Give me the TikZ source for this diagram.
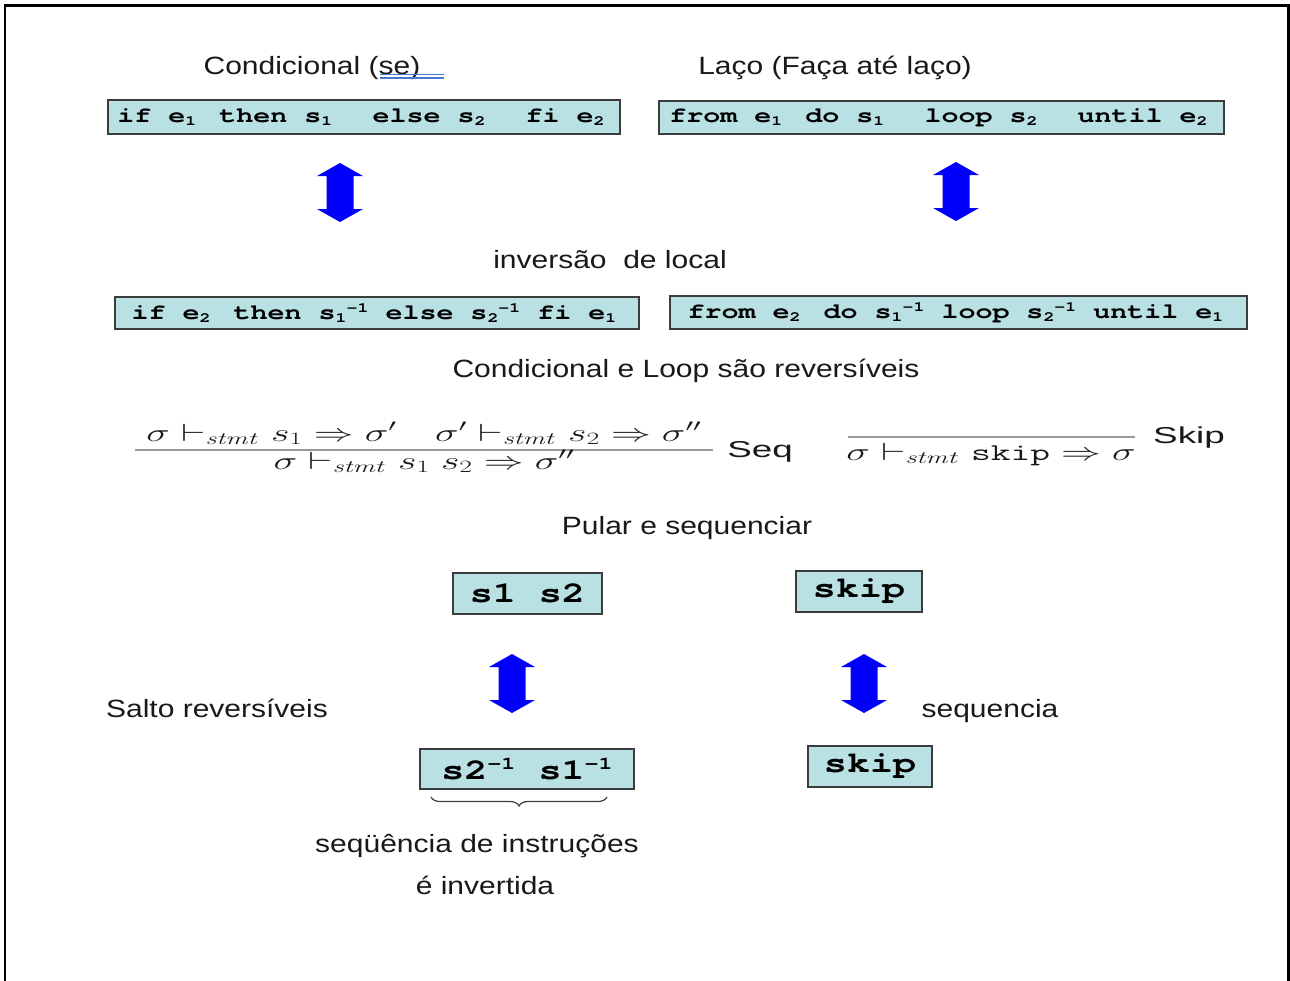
\documentclass[tikz,border=0pt]{standalone}
\usepackage[no-math]{fontspec}
\usepackage{graphicx}
\setmainfont{Liberation Sans}[FakeStretch=1.2]
\newfontfamily\boxfont{TeX Gyre Cursor}[FakeStretch=1.3, Ligatures={NoCommon}]
\newfontfamily\smallboxfont{TeX Gyre Cursor}[FakeStretch=1.3, Ligatures={NoCommon}]
\newfontfamily\rulefont{Liberation Sans}
\usetikzlibrary{decorations.pathreplacing}
\definecolor{boxfill}{RGB}{185,224,227}
\definecolor{boxline}{RGB}{60,60,60}
\definecolor{ulblue}{RGB}{70,120,220}
\definecolor{arrowblue}{RGB}{0,0,250}
\definecolor{textgray}{RGB}{25,25,25}
% subscript taking a full cell, natural subscript, superscript (big boxes)
\newcommand\bs[1]{\makebox[17pt][l]{\raisebox{-3.5pt}{\fontsize{14}{14}\selectfont#1}}}
\newcommand\bsn[1]{\raisebox{-3.5pt}{\fontsize{14}{14}\selectfont#1}}
\newcommand\bsp[1]{\raisebox{7pt}{\fontsize{14}{14}\selectfont#1}}
\newcommand\ssp[1]{\raisebox{10pt}{\fontsize{18}{18}\selectfont#1}}
\newcommand\rulesc[1]{\scalebox{1.6}[1]{#1}}
\begin{document}
\begin{tikzpicture}[x=1pt,y=-1pt,
  codebox/.style={draw=boxline, line width=2pt, fill=boxfill, inner sep=0pt,
    font=\boxfont\bfseries\fontsize{21.8}{21.8}\selectfont},
  smallbox/.style={draw=boxline, line width=2pt, fill=boxfill, inner sep=0pt,
    font=\smallboxfont\bfseries\fontsize{29.5}{29.5}\selectfont},
  lbl/.style={anchor=base, inner sep=0pt, text=textgray, font=\fontsize{25}{25}\selectfont},
  rulelbl/.style={anchor=base, inner sep=0pt, text=textgray, font=\rulefont\fontsize{23}{23}\selectfont},
  mathlbl/.style={anchor=base, inner sep=0pt, text=textgray, font=\fontsize{24}{24}\selectfont},
  ruleline/.style={draw=gray!80, line width=1.5pt},
  pics/updown/.style={code={
    \fill[arrowblue] (0,0) -- (23,13) -- (13.5,13) -- (13.5,46) -- (23,46) -- (0,59)
      -- (-23,46) -- (-13.5,46) -- (-13.5,13) -- (-23,13) -- cycle;}}
]
\useasboundingbox (0,0) rectangle (1290,980);
\fill[white] (0,0) rectangle (1290,980);
\draw[line width=2.5pt] (5,981) -- (5,5.5) -- (1288.5,5.5) -- (1288.5,981);

% titles
\node[lbl] (tcond) at (312,74) {Condicional (se)};
\draw[ulblue, line width=1.3pt] (380,74.5) -- (444,74.5);
\draw[ulblue, line width=1.3pt] (380,78) -- (444,78);
\node[lbl] (tlaco) at (835,74) {Laço (Faça até laço)};

% top boxes
\node[codebox, minimum width=512, minimum height=34] (ifbox) at (364,117)
  {if e\bs{1} then s\bs{1}~~else s\bs{2}~~fi e\bs{2}};
\node[codebox, minimum width=565, minimum height=33] (frombox) at (941.5,117.5)
  {from e\bs{1} do s\bs{1}~~loop s\bs{2}~~until e\bs{2}};

% arrows
\pic at (340,163) {updown};
\pic at (956,162) {updown};

\node[lbl] (tinv) at (610,268) {inversão~~de local};

\node[codebox, minimum width=524, minimum height=32] (ifinv) at (377,313)
  {if e\bs{2} then s\bsn{1}\bsp{-1} else s\bsn{2}\bsp{-1} fi e\bs{1}};
\node[codebox, minimum width=577, minimum height=33] (frominv) at (958.5,312.5)
  {from e\bs{2} do s\bsn{1}\bsp{-1} loop s\bsn{2}\bsp{-1} until e\bs{1}};

\node[lbl] (trev) at (686,377) {Condicional e Loop são reversíveis};

% Seq rule
\coordinate (seqL) at (135,450);
\coordinate (seqR) at (713,450);
\draw[ruleline] (seqL) -- (seqR);
\node[mathlbl] (seqnum) at (424,441)
  {\rulesc{$\sigma \vdash_{\mathit{stmt}} s_1 \Rightarrow \sigma' \quad \sigma' \vdash_{\mathit{stmt}} s_2 \Rightarrow \sigma''$}};
\node[mathlbl] (seqden) at (424,469)
  {\rulesc{$\sigma \vdash_{\mathit{stmt}} s_1\; s_2 \Rightarrow \sigma''$}};
\node[rulelbl] (seqlbl) at (760,457) {\rulesc{Seq}};

% Skip rule
\coordinate (skL) at (848,437);
\coordinate (skR) at (1135,437);
\draw[ruleline] (skL) -- (skR);
\node[mathlbl] (skden) at (991,460)
  {\rulesc{$\sigma \vdash_{\mathit{stmt}} \texttt{skip} \Rightarrow \sigma$}};
\node[rulelbl] (sklbl) at (1189,443) {\rulesc{Skip}};

\node[lbl] (tpular) at (687,534) {Pular e sequenciar};

% bottom boxes
\node[smallbox, minimum width=149, minimum height=41] (s1s2) at (527.5,593.5) {s1 s2};
\node[smallbox, minimum width=126, minimum height=41] (skip1) at (859,591.5) {skip};
\pic at (512,654) {updown};
\pic at (864,654) {updown};
\node[smallbox, minimum width=214, minimum height=40] (inv) at (527,769)
  {s2\ssp{-1} s1\ssp{-1}};
\node[smallbox, minimum width=124, minimum height=41] (skip2) at (870,766.5) {skip};

\node[lbl] (tsalto) at (217,717) {Salto reversíveis};
\node[lbl] (tseq) at (990,717) {sequencia};

\draw[decorate, decoration={brace, mirror, amplitude=9pt}, draw=boxline, line width=1.2pt]
  ([xshift=12,yshift=-7]inv.south west) -- ([xshift=-28,yshift=-7]inv.south east);

\node[lbl] (tsequ) at (477,852) {seqüência de instruções};
\node[lbl] (tinvt) at (485,894) {é invertida};
\end{tikzpicture}
\end{document}
